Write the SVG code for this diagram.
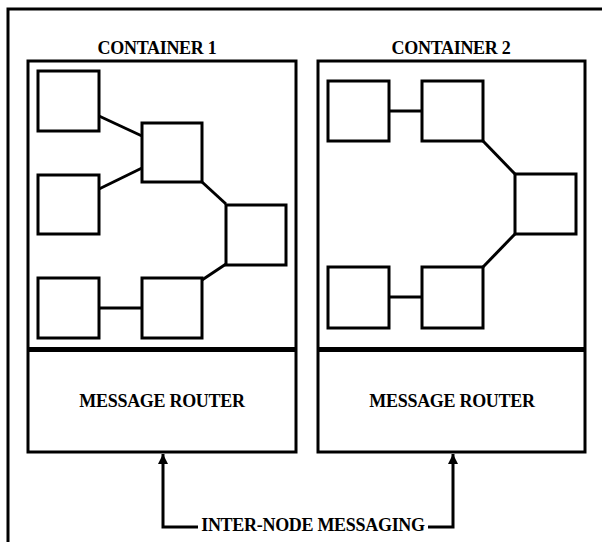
<svg xmlns="http://www.w3.org/2000/svg" width="602" height="542" viewBox="0 0 602 542">
<defs>
<style>
.frame{fill:none;stroke:#000;stroke-width:3}
.cont{fill:none;stroke:#000;stroke-width:3}
.div{stroke:#000;stroke-width:5}
.box{fill:#fff;stroke:#000;stroke-width:3}
.edge{fill:none;stroke:#000;stroke-width:3}
.msg{fill:none;stroke:#000;stroke-width:3}
text{font-family:"Liberation Serif","Times New Roman",serif;font-weight:bold;font-size:18px;letter-spacing:-0.3px;fill:#000;text-anchor:middle}
</style>
<marker id="arr" viewBox="0 0 10 10" refX="10" refY="5" markerWidth="11" markerHeight="10" markerUnits="userSpaceOnUse" orient="auto">
<path d="M0,0 L10,5 L0,10 Z" fill="#000"/>
</marker>
</defs>
<rect width="602" height="542" fill="#fff"/>
<path class="frame" d="M8,545 V9 H605"/>

<g id="container1">
<text x="157" y="54">CONTAINER 1</text>
<rect class="cont" x="28" y="61" width="268" height="391"/>
<line class="div" x1="28" y1="349.5" x2="296" y2="349.5"/>
</g>
<g id="router1">
<text x="162" y="407">MESSAGE ROUTER</text>
</g>

<g id="container2">
<text x="451" y="54">CONTAINER 2</text>
<rect class="cont" x="318" y="61" width="267" height="391"/>
<line class="div" x1="318" y1="349.5" x2="585" y2="349.5"/>
</g>
<g id="router2">
<text x="452" y="407">MESSAGE ROUTER</text>
</g>

<g id="connectors">
<line class="edge" x1="99" y1="116" x2="142" y2="136"/>
<line class="edge" x1="99" y1="189" x2="142" y2="168"/>
<line class="edge" x1="202" y1="182" x2="226" y2="204"/>
<line class="edge" x1="226" y1="264" x2="202" y2="280"/>
<line class="edge" x1="99" y1="308" x2="142" y2="308"/>
<line class="edge" x1="389" y1="111" x2="422" y2="111"/>
<line class="edge" x1="483" y1="141" x2="515" y2="174"/>
<line class="edge" x1="515" y1="234" x2="483" y2="267"/>
<line class="edge" x1="389" y1="297" x2="422" y2="297"/>
<path class="msg" d="M198,527 H163 V454" marker-end="url(#arr)"/>
<path class="msg" d="M428,527 H453 V454" marker-end="url(#arr)"/>
</g>

<g id="n1a"><rect class="box" x="38" y="71" width="61" height="60"/></g>
<g id="n1b"><rect class="box" x="142" y="123" width="60" height="59"/></g>
<g id="n1c"><rect class="box" x="38" y="175" width="61" height="59"/></g>
<g id="n1d"><rect class="box" x="226" y="205" width="60" height="60"/></g>
<g id="n1e"><rect class="box" x="38" y="278" width="61" height="60"/></g>
<g id="n1f"><rect class="box" x="142" y="278" width="60" height="60"/></g>

<g id="n2a"><rect class="box" x="328" y="81" width="61" height="60"/></g>
<g id="n2b"><rect class="box" x="422" y="81" width="61" height="60"/></g>
<g id="n2c"><rect class="box" x="515" y="174" width="61" height="60"/></g>
<g id="n2d"><rect class="box" x="328" y="267" width="61" height="61"/></g>
<g id="n2e"><rect class="box" x="422" y="267" width="61" height="61"/></g>

<g id="label-internode">
<text x="313" y="531">INTER-NODE MESSAGING</text>
</g>
</svg>
